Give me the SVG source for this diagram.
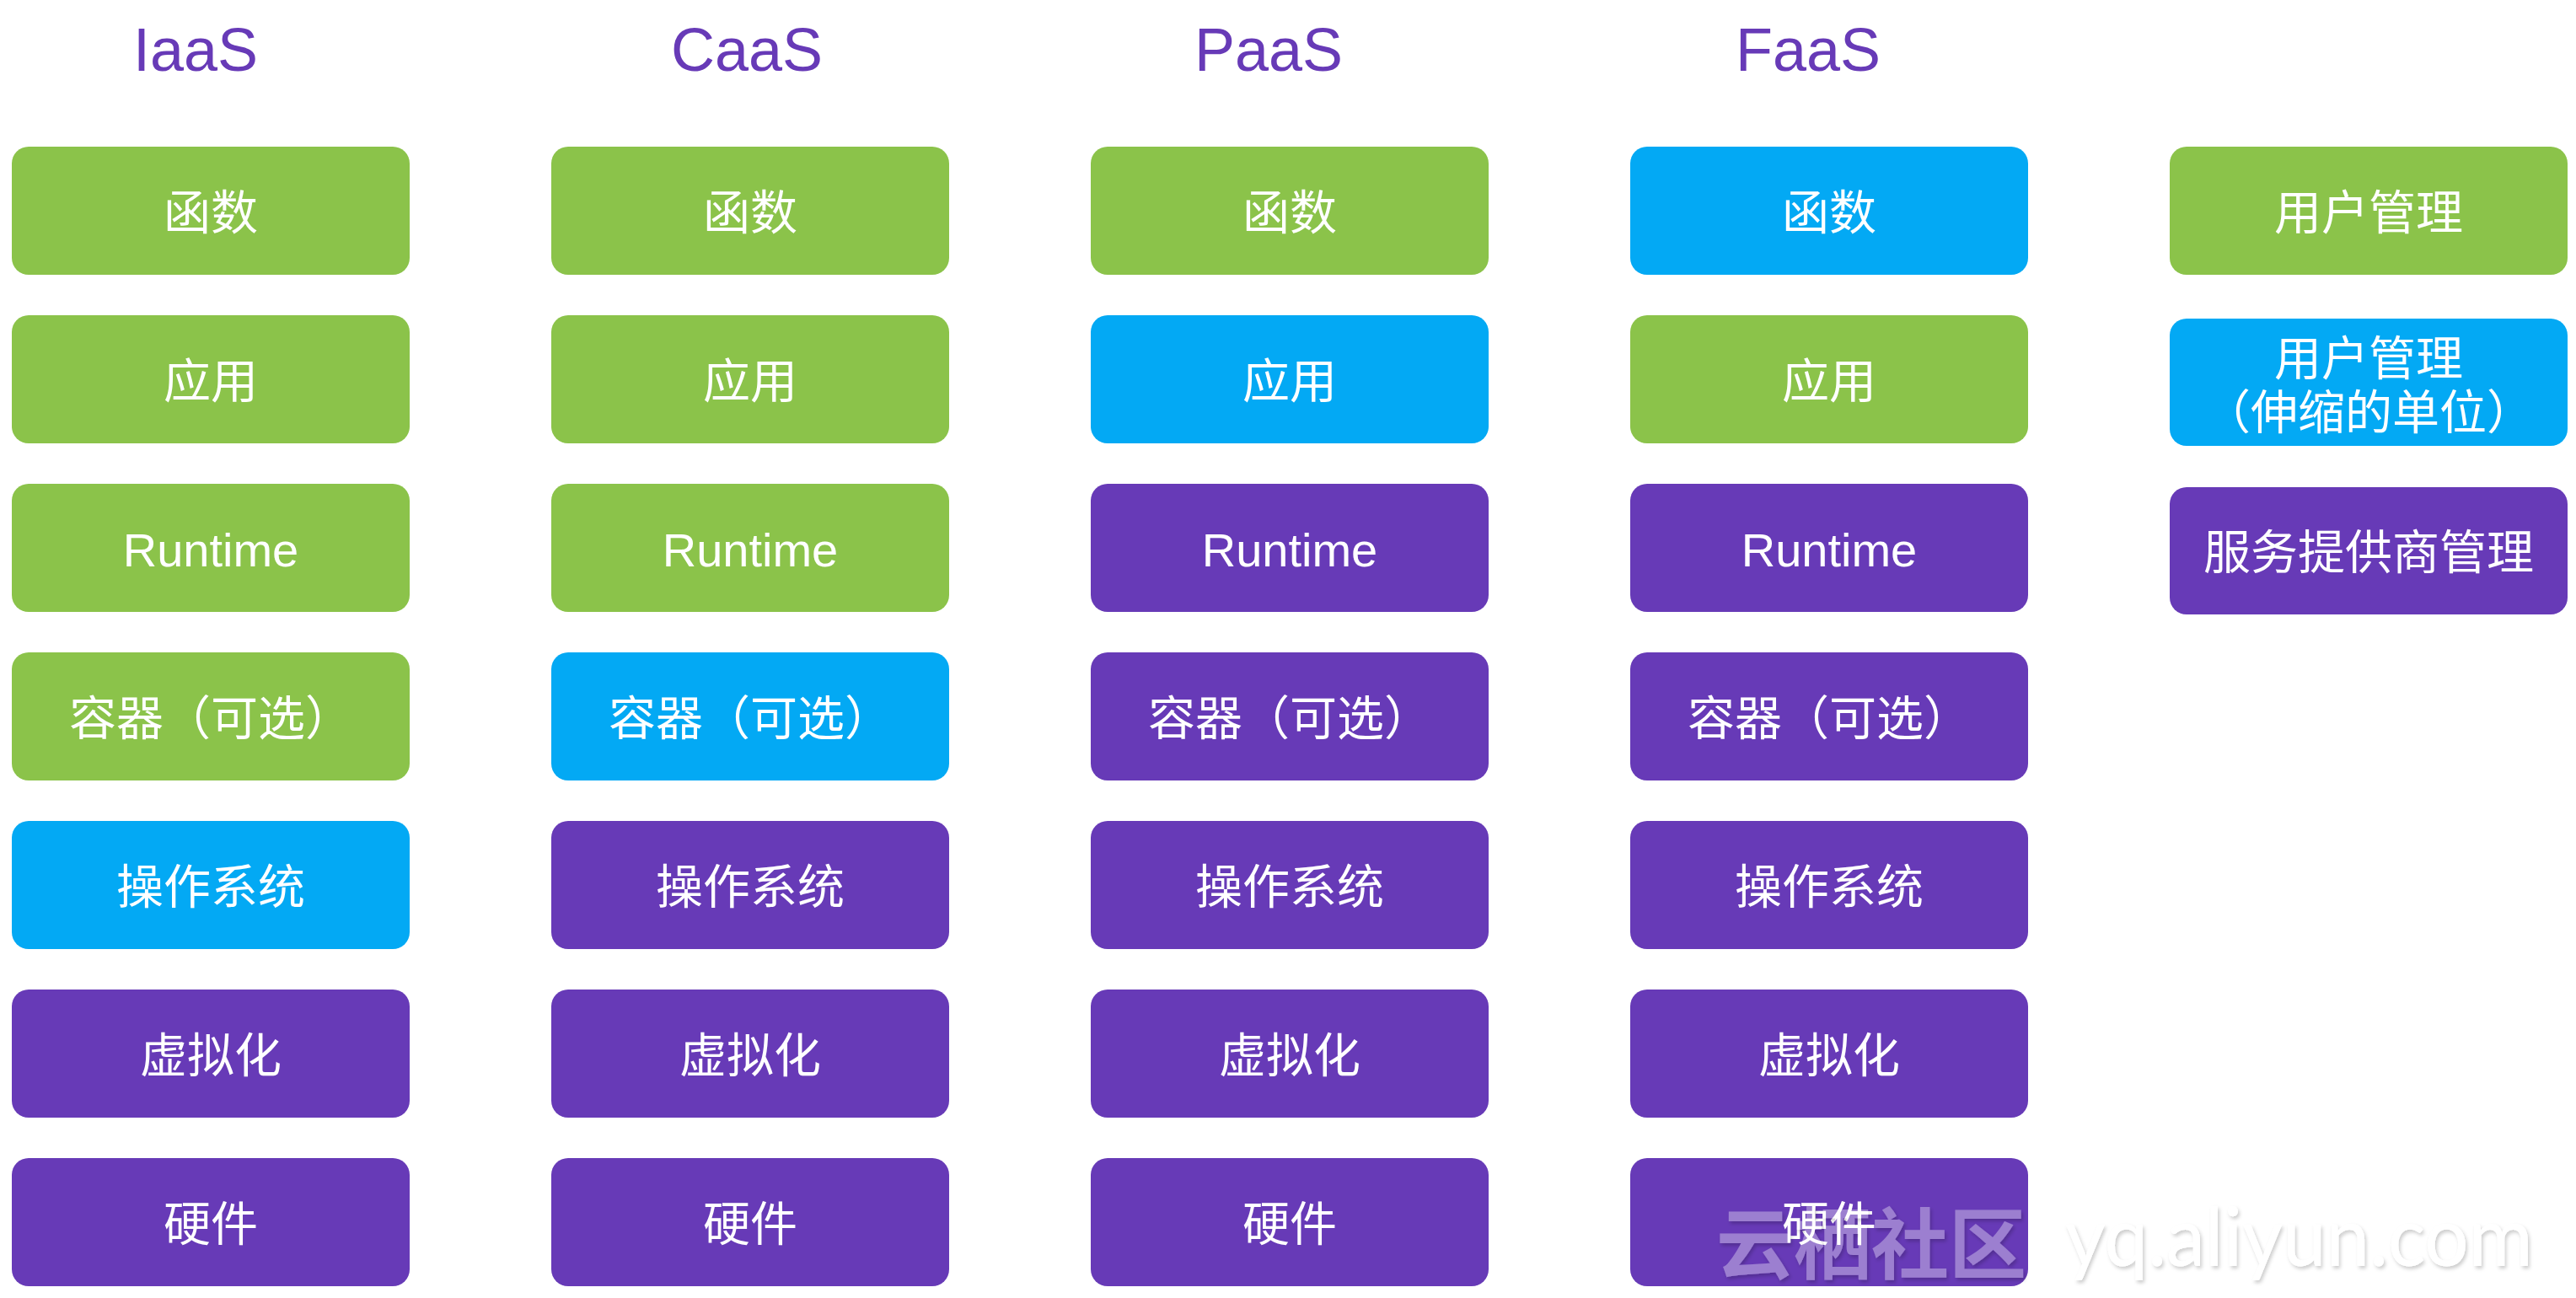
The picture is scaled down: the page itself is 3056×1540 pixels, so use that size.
<svg xmlns="http://www.w3.org/2000/svg" width="3056" height="1540" viewBox="0 0 3056 1540">
<style>
.g{fill:#8BC34A}.b{fill:#03A9F4}.p{fill:#673AB7}
.box{}
.lbl{font-family:"Liberation Sans","Noto Sans CJK SC",sans-serif;font-size:56px;fill:#fff;text-anchor:middle}
.ttl{font-family:"Liberation Sans",Arial,sans-serif;font-size:72px;fill:#673AB7;text-anchor:middle}
.wm{fill:#fff;fill-opacity:0.35}
</style>
<defs>
<filter id="wmf" x="-5%" y="-30%" width="110%" height="160%">
<feColorMatrix in="SourceAlpha" type="matrix" values="0 0 0 0 0  0 0 0 0 0  0 0 0 0 0  0 0 0 3 0" result="a"/>
<feGaussianBlur in="a" stdDeviation="2" result="bl"/>
<feOffset in="bl" dx="2" dy="3" result="o"/>
<feComposite in="o" in2="a" operator="out" result="s"/>
<feFlood flood-color="#000" flood-opacity="0.2"/>
<feComposite in2="s" operator="in" result="sh"/>
<feMerge><feMergeNode in="sh"/><feMergeNode in="SourceGraphic"/></feMerge>
</filter>
</defs>
<rect width="3056" height="1540" fill="#fff"/>
<g id="titles">
<text class="ttl" x="232" y="84">IaaS</text>
<text class="ttl" x="886" y="84">CaaS</text>
<text class="ttl" x="1505" y="84">PaaS</text>
<text class="ttl" x="2145" y="84">FaaS</text>
</g>
<g id="connectors"></g>
<!-- IaaS -->
<g id="iaas-func"><rect class="g" x="14" y="174" width="472" height="152" rx="20"/><text class="lbl" x="250" y="272">函数</text></g>
<g id="iaas-app"><rect class="g" x="14" y="374" width="472" height="152" rx="20"/><text class="lbl" x="250" y="472">应用</text></g>
<g id="iaas-rt"><rect class="g" x="14" y="574" width="472" height="152" rx="20"/><text class="lbl" x="250" y="672">Runtime</text></g>
<g id="iaas-ctr"><rect class="g" x="14" y="774" width="472" height="152" rx="20"/><text class="lbl" x="250" y="872">容器（可选）</text></g>
<g id="iaas-os"><rect class="b" x="14" y="974" width="472" height="152" rx="20"/><text class="lbl" x="250" y="1072">操作系统</text></g>
<g id="iaas-virt"><rect class="p" x="14" y="1174" width="472" height="152" rx="20"/><text class="lbl" x="250" y="1272">虚拟化</text></g>
<g id="iaas-hw"><rect class="p" x="14" y="1374" width="472" height="152" rx="20"/><text class="lbl" x="250" y="1472">硬件</text></g>
<!-- CaaS -->
<g id="caas-func"><rect class="g" x="654" y="174" width="472" height="152" rx="20"/><text class="lbl" x="890" y="272">函数</text></g>
<g id="caas-app"><rect class="g" x="654" y="374" width="472" height="152" rx="20"/><text class="lbl" x="890" y="472">应用</text></g>
<g id="caas-rt"><rect class="g" x="654" y="574" width="472" height="152" rx="20"/><text class="lbl" x="890" y="672">Runtime</text></g>
<g id="caas-ctr"><rect class="b" x="654" y="774" width="472" height="152" rx="20"/><text class="lbl" x="890" y="872">容器（可选）</text></g>
<g id="caas-os"><rect class="p" x="654" y="974" width="472" height="152" rx="20"/><text class="lbl" x="890" y="1072">操作系统</text></g>
<g id="caas-virt"><rect class="p" x="654" y="1174" width="472" height="152" rx="20"/><text class="lbl" x="890" y="1272">虚拟化</text></g>
<g id="caas-hw"><rect class="p" x="654" y="1374" width="472" height="152" rx="20"/><text class="lbl" x="890" y="1472">硬件</text></g>
<!-- PaaS -->
<g id="paas-func"><rect class="g" x="1294" y="174" width="472" height="152" rx="20"/><text class="lbl" x="1530" y="272">函数</text></g>
<g id="paas-app"><rect class="b" x="1294" y="374" width="472" height="152" rx="20"/><text class="lbl" x="1530" y="472">应用</text></g>
<g id="paas-rt"><rect class="p" x="1294" y="574" width="472" height="152" rx="20"/><text class="lbl" x="1530" y="672">Runtime</text></g>
<g id="paas-ctr"><rect class="p" x="1294" y="774" width="472" height="152" rx="20"/><text class="lbl" x="1530" y="872">容器（可选）</text></g>
<g id="paas-os"><rect class="p" x="1294" y="974" width="472" height="152" rx="20"/><text class="lbl" x="1530" y="1072">操作系统</text></g>
<g id="paas-virt"><rect class="p" x="1294" y="1174" width="472" height="152" rx="20"/><text class="lbl" x="1530" y="1272">虚拟化</text></g>
<g id="paas-hw"><rect class="p" x="1294" y="1374" width="472" height="152" rx="20"/><text class="lbl" x="1530" y="1472">硬件</text></g>
<!-- FaaS -->
<g id="faas-func"><rect class="b" x="1934" y="174" width="472" height="152" rx="20"/><text class="lbl" x="2170" y="272">函数</text></g>
<g id="faas-app"><rect class="g" x="1934" y="374" width="472" height="152" rx="20"/><text class="lbl" x="2170" y="472">应用</text></g>
<g id="faas-rt"><rect class="p" x="1934" y="574" width="472" height="152" rx="20"/><text class="lbl" x="2170" y="672">Runtime</text></g>
<g id="faas-ctr"><rect class="p" x="1934" y="774" width="472" height="152" rx="20"/><text class="lbl" x="2170" y="872">容器（可选）</text></g>
<g id="faas-os"><rect class="p" x="1934" y="974" width="472" height="152" rx="20"/><text class="lbl" x="2170" y="1072">操作系统</text></g>
<g id="faas-virt"><rect class="p" x="1934" y="1174" width="472" height="152" rx="20"/><text class="lbl" x="2170" y="1272">虚拟化</text></g>
<g id="faas-hw"><rect class="p" x="1934" y="1374" width="472" height="152" rx="20"/><text class="lbl" x="2170" y="1472">硬件</text></g>
<!-- Legend -->
<g id="legend-user"><rect class="g" x="2574" y="174" width="472" height="152" rx="20"/><text class="lbl" x="2810" y="272">用户管理</text></g>
<g id="legend-scale"><rect class="b" x="2574" y="378" width="472" height="151" rx="20"/><text class="lbl" x="2810" y="445">用户管理</text><text class="lbl" x="2810" y="509">（伸缩的单位）</text></g>
<g id="legend-provider"><rect class="p" x="2574" y="578" width="472" height="151" rx="20"/><text class="lbl" x="2810" y="675">服务提供商管理</text></g>
<!-- watermark -->
<g id="watermark" filter="url(#wmf)">
<text class="wm" x="2036" y="1510" font-family="Noto Sans CJK SC, sans-serif" font-weight="bold" font-size="92">云栖社区</text>
<text class="wm" x="2450" y="1502" font-family="Lato, 'Open Sans', sans-serif" font-size="96" textLength="555" lengthAdjust="spacingAndGlyphs">yq.aliyun.com</text>
</g>
</svg>
